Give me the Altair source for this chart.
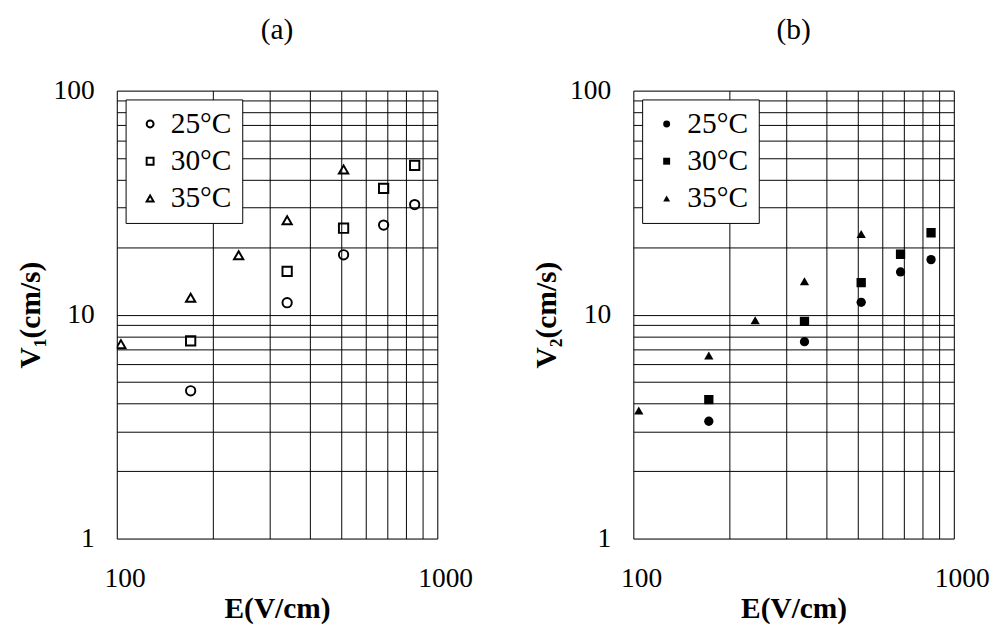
import altair as alt
import pandas as pd

temps = ["25°C", "30°C", "35°C"]

# Panel (a): V1
E_a_25 = [170, 340, 510, 680, 850]
V1_25 = [4.57, 11.3, 18.5, 25.1, 31.0]
E_a_30 = [170, 340, 510, 680, 850]
V1_30 = [7.63, 15.6, 24.3, 36.6, 46.4]
E_a_35 = [103, 170, 240, 340, 510]
V1_35 = [7.38, 11.9, 18.4, 26.4, 44.5]

# Panel (b): V2
E_b_25 = [172, 342, 514, 682, 849]
V2_25 = [3.34, 7.57, 11.35, 15.5, 17.6]
E_b_30 = [172, 342, 514, 682, 849]
V2_30 = [4.17, 9.33, 13.9, 18.6, 23.2]
E_b_35 = [104, 172, 240, 342, 514]
V2_35 = [3.73, 6.57, 9.43, 14.1, 22.9]

x_grid = [100, 200, 300, 400, 500, 600, 700, 800, 900, 1000]
y_grid = [1, 2, 3, 4, 5, 6, 7, 8, 9, 10, 20, 30, 40, 50, 60, 70, 80, 90, 100]
x_labels = [100, 1000]
y_labels = [1, 10, 100]


def frame(es, vs):
    rows = []
    for t, e_list, v_list in zip(temps, es, vs):
        for e, v in zip(e_list, v_list):
            rows.append({"E": e, "V": v, "T": t})
    return pd.DataFrame(rows)


df_a = frame([E_a_25, E_a_30, E_a_35], [V1_25, V1_30, V1_35])
df_b = frame([E_b_25, E_b_30, E_b_35], [V2_25, V2_30, V2_35])

FONT = "Liberation Serif"

xlab_expr = " || ".join(f"datum.value == {v}" for v in x_labels)
ylab_expr = " || ".join(f"datum.value == {v}" for v in y_labels)


def panel(df, filled, ytitle, ptitle):
    x_axis = alt.Axis(
        values=x_grid, format="d", labelExpr=f"({xlab_expr}) ? datum.label : ''",
        grid=True, gridColor="black", gridWidth=1, gridOpacity=1,
        ticks=False, domain=False, labelOverlap=False, labelFlush=False,
        labelFont=FONT, labelFontSize=28, labelColor="black", labelPadding=27,
        labelOffset=8,
        title="E(V/cm)", titleFont=FONT, titleFontSize=30,
        titleFontWeight="bold", titleColor="black", titlePadding=2,
    )
    y_axis = alt.Axis(
        values=y_grid, format="d", labelExpr=f"({ylab_expr}) ? datum.label : ''",
        grid=True, gridColor="black", gridWidth=1, gridOpacity=1,
        ticks=False, domain=False, labelOverlap=False, labelFlush=False,
        labelFont=FONT, labelFontSize=28, labelColor="black", labelPadding=23,
        title=ytitle, titleFont=FONT, titleFontSize=30,
        titleFontWeight="bold", titleColor="black", titlePadding=8,
    )
    legend = alt.Legend(
        title=None, orient="top-left", offset=9, padding=10,
        fillColor="white", strokeColor="black",
        labelFont=FONT, labelFontSize=30, labelColor="black",
        symbolSize=50, symbolStrokeWidth=2, symbolStrokeColor="black",
        symbolFillColor="black" if filled else "white",
        symbolOffset=0, labelOffset=6, rowPadding=8,
    )
    return alt.Chart(df).mark_point(
        filled=filled, color="black", size=90, strokeWidth=2, opacity=1, clip=True
    ).encode(
        x=alt.X("E:Q", scale=alt.Scale(type="log", domain=[100, 1000], nice=False), axis=x_axis),
        y=alt.Y("V:Q", scale=alt.Scale(type="log", domain=[1, 100], nice=False), axis=y_axis),
        shape=alt.Shape("T:N", scale=alt.Scale(domain=temps, range=["circle", "square", "triangle-up"]), legend=legend),
    ).properties(
        width=327, height=457,
        title=alt.TitleParams(ptitle, font=FONT, fontSize=30, fontWeight="normal",
                              color="black", frame="group", anchor="middle", offset=33),
    )


a = panel(df_a, False, "V₁(cm/s)", "(a)")
b = panel(df_b, True, "V₂(cm/s)", "(b)")

chart = alt.hconcat(a, b, spacing=200, bounds="flush").resolve_scale(
    shape="independent"
).resolve_legend(shape="independent").configure_view(
    stroke="black", strokeWidth=3
).configure(background="white", padding={"left": 7, "top": 0, "right": 5, "bottom": 0})

chart.save("out.html", embed_options={"renderer": "svg", "actions": False})
